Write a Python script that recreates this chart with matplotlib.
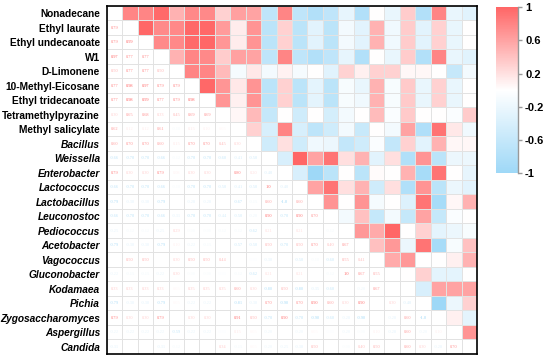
import numpy as np
import matplotlib
matplotlib.use("Agg")
import matplotlib.pyplot as plt
from matplotlib.colors import LinearSegmentedColormap, Normalize
from matplotlib.cm import ScalarMappable

plt.rcParams["font.family"] = ["Liberation Sans", "DejaVu Sans"]

# volatiles / indicator first, microbes (italic) after
labels = [
    "Nonadecane", "Ethyl laurate", "Ethyl undecanoate", "W1", "D-Limonene",
    "10-Methyl-Eicosane", "Ethyl tridecanoate", "Tetramethylpyrazine",
    "Methyl salicylate", "Bacillus", "Weissella", "Enterobacter", "Lactococcus",
    "Lactobacillus", "Leuconostoc", "Pediococcus", "Acetobacter", "Vagococcus",
    "Gluconobacter", "Kodamaea", "Pichia", "Zygosaccharomyces", "Aspergillus",
    "Candida",
]
n_volatiles = 9

# upper triangle, row i holds the correlations with columns i+1 .. end
upper_rows = [
    [0.79, 0.79, 0.97, 0.50, 0.77, 0.77, 0.30, 0.62, 0.60, -0.66, 0.79, -0.66,
     -0.79, -0.66, -0.25, -0.79, 0.00, -0.22, 0.33, -0.79, 0.79, -0.22, -0.31],
    [0.99, 0.77, 0.77, 0.98, 0.98, 0.65, 0.12, 0.70, -0.70, 0.30, -0.70, -0.30,
     -0.70, -0.12, -0.30, 0.50, -0.15, 0.33, -0.30, 0.30, -0.22, 0.00],
    [0.77, 0.77, 0.97, 0.99, 0.68, 0.12, 0.70, -0.70, 0.30, -0.70, -0.30,
     -0.70, -0.12, -0.30, 0.50, -0.15, 0.33, -0.30, 0.30, -0.22, 0.00],
    [0.50, 0.79, 0.77, 0.33, 0.61, 0.60, -0.66, 0.79, -0.66, -0.79, -0.66,
     -0.25, -0.79, 0.00, -0.22, 0.33, -0.79, 0.79, -0.22, -0.31],
    [0.79, 0.79, 0.45, -0.10, 0.15, -0.12, 0.08, -0.10, 0.00, -0.31, 0.29,
     0.10, 0.30, 0.30, 0.05, 0.05, 0.00, -0.59, -0.12],
    [0.98, 0.69, 0.15, 0.70, -0.70, 0.30, -0.70, -0.28, -0.70, -0.08, -0.22,
     0.50, -0.08, 0.35, -0.22, 0.30, -0.22, 0.00],
    [0.69, 0.10, 0.70, -0.70, 0.30, -0.70, -0.28, -0.70, -0.08, -0.15, 0.50,
     -0.08, 0.35, -0.22, 0.30, -0.22, 0.00],
    [0.05, 0.45, -0.60, 0.00, -0.50, 0.00, -0.44, -0.12, 0.00, 0.44, -0.05,
     0.35, 0.00, 0.00, -0.05, 0.34],
    [0.30, -0.41, 0.80, -0.41, -0.67, -0.50, -0.12, -0.57, 0.00, -0.12, 0.60,
     -0.81, 0.91, 0.15, -0.15],
    [-0.50, 0.20, -0.50, -0.15, -0.20, -0.62, -0.50, -0.05, -0.62, 0.30, -0.30,
     0.50, 0.05, 0.05],
    [-0.40, 1.00, 0.60, 0.90, 0.21, 0.50, -0.30, 0.21, -0.80, 0.70, -0.70,
     -0.20, -0.20],
    [-0.40, -1.00, -0.70, 0.00, -0.70, 0.03, 0.00, 0.50, -0.90, 0.90, 0.00,
     -0.25],
    [0.60, 0.90, 0.21, 0.50, -0.50, 0.21, -0.80, 0.70, -0.70, -0.20, -0.30],
    [0.70, 0.00, 0.70, -0.10, 0.00, -0.35, 0.90, -0.90, 0.05, 0.50],
    [-0.12, 0.40, -0.60, -0.12, -0.60, 0.60, -0.60, -0.05, 0.00],
    [0.67, 0.55, 1.00, 0.00, 0.30, -0.28, -0.20, -0.08],
    [0.41, 0.67, -0.20, 0.90, -0.90, -0.08, 0.40],
    [0.55, 0.67, 0.00, 0.00, 0.10, 0.50],
    [0.00, 0.30, -0.28, -0.28, 0.00],
    [-0.40, 0.60, 0.60, 0.60],
    [-1.00, -0.20, 0.30],
    [0.10, -0.28],
    [0.70],
]
cbar_ticks = [-1, -0.6, -0.2, 0.2, 0.6, 1]

n = len(labels)
corr = np.eye(n)
for i, row in enumerate(upper_rows):
    corr[i, i + 1:] = row
    corr[i + 1:, i] = row

cmap = LinearSegmentedColormap.from_list("bwr_soft", ["#9ED8F7", "#FFFFFF", "#FF6666"], N=256)
cmap.set_bad("white")
norm = Normalize(-1, 1)

fig = plt.figure(figsize=(5.5, 3.57), dpi=100)
ax = fig.add_axes([0.1945, 0.0084, 0.6727, 0.975])

shown = np.where(np.triu(np.ones((n, n), bool), k=1), corr, np.nan)
ax.pcolormesh(np.ma.masked_invalid(shown), cmap=cmap, norm=norm,
              edgecolors="#e2e2e2", linewidth=0.4)

# lower triangle: the same numbers as text
for i in range(n):
    for j in range(i):
        v = corr[i, j]
        if abs(v) < 0.04:
            continue
        txt = "1.0" if v >= 0.995 else ("-1.0" if v <= -0.995 else f"{v:.2f}")
        ax.text(j + 0.5, i + 0.5, txt, ha="center", va="center",
                fontsize=3.2, family="Liberation Serif", color=cmap(norm(v)))

ax.set_xlim(0, n)
ax.set_ylim(n, 0)
ax.set_xticks([])
ax.set_yticks(np.arange(n) + 0.5)
ax.set_yticklabels(labels, fontsize=7.3, fontweight="bold")
for k, lab in enumerate(ax.get_yticklabels()):
    if k >= n_volatiles:
        lab.set_fontstyle("italic")
ax.tick_params(axis="y", length=0, pad=5)
for sp in ax.spines.values():
    sp.set_linewidth(1.2)
    sp.set_color("black")

cax = fig.add_axes([0.902, 0.515, 0.04, 0.465])
cb = fig.colorbar(ScalarMappable(norm=norm, cmap=cmap), cax=cax, ticks=cbar_ticks)
cb.outline.set_visible(False)
cax.plot([1, 1], [0, 1], transform=cax.transAxes, color="#999999", lw=1, clip_on=False)
cax.tick_params(length=3, width=1, color="#999999", labelsize=8, pad=2)
cb.set_ticklabels(["-1", "-0.6", "-0.2", "0.2", "0.6", "1"])
for lab in cax.get_yticklabels():
    lab.set_fontweight("bold")

fig.savefig("out.png", dpi=100)
